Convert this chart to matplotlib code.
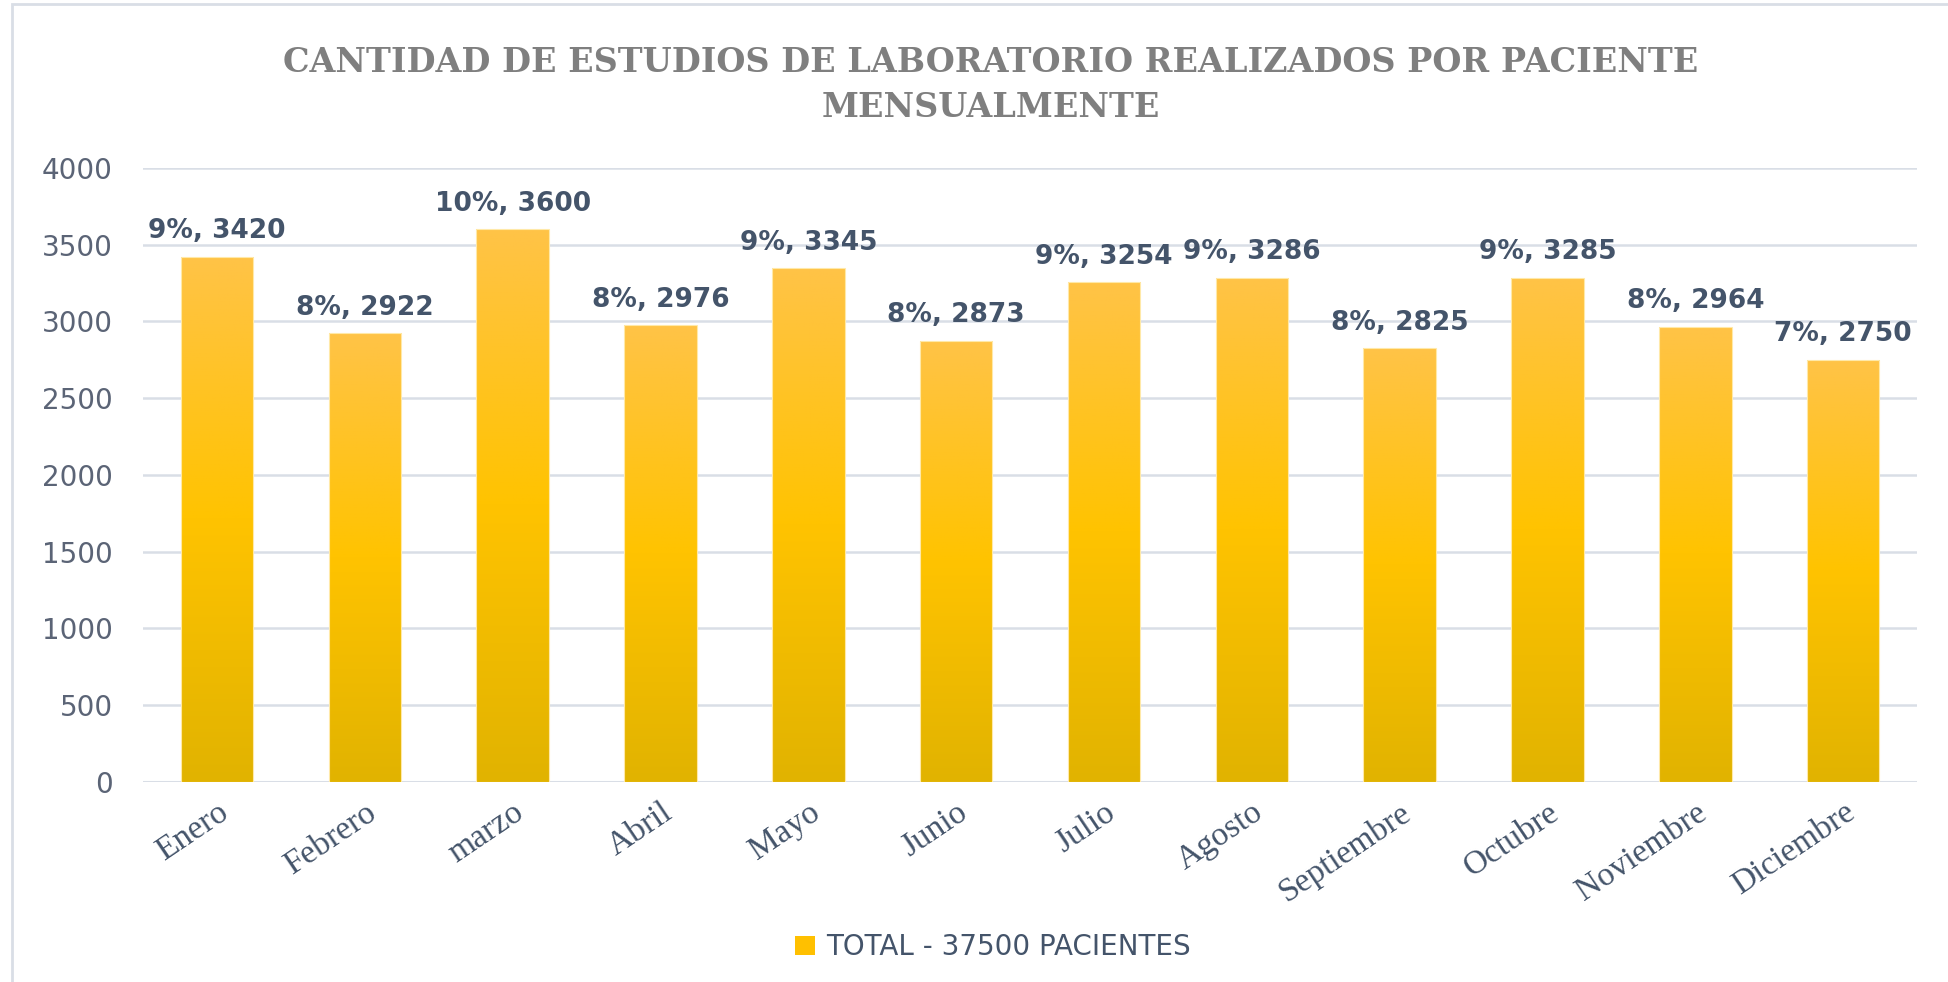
import matplotlib
matplotlib.use('Agg')
import matplotlib.pyplot as plt
import numpy as np
from matplotlib.colors import LinearSegmentedColormap
from matplotlib.patches import Patch, Rectangle

months = ['Enero', 'Febrero', 'marzo', 'Abril', 'Mayo', 'Junio', 'Julio',
          'Agosto', 'Septiembre', 'Octubre', 'Noviembre', 'Diciembre']
studies = [3420, 2922, 3600, 2976, 3345, 2873, 3254, 3286, 2825, 3285, 2964, 2750]
pct_labels = ['9%', '8%', '10%', '8%', '9%', '8%', '9%', '9%', '8%', '9%', '8%', '7%']
y_ticks = [0, 500, 1000, 1500, 2000, 2500, 3000, 3500, 4000]
series_name = 'TOTAL - 37500 PACIENTES'
title = 'CANTIDAD DE ESTUDIOS DE LABORATORIO REALIZADOS POR PACIENTE\nMENSUALMENTE'

text_col = '#44546A'
grid_col = '#D9DEE6'

fig = plt.figure(figsize=(19.49, 9.82), dpi=100)
ax = fig.add_axes([0.0734, 0.2037, 0.9102, 0.6253])

# gradient from bottom (darker gold) to top (light orange-yellow)
cmap = LinearSegmentedColormap.from_list('gold', [(0.0, '#E1B300'), (0.5, '#FFC300'), (1.0, '#FFC347')])
grad = np.linspace(0, 1, 256).reshape(-1, 1)

x = np.arange(len(months))
bars = ax.bar(x, studies, width=0.49, facecolor='none', edgecolor='#FFE9A8', linewidth=0.8, zorder=3)
for b in bars:
    x0, y0 = b.get_x(), b.get_y()
    im = ax.imshow(grad, extent=[x0, x0 + b.get_width(), y0, y0 + b.get_height()],
                   origin='lower', aspect='auto', cmap=cmap, zorder=2)
    im.set_clip_path(b)

for i, v in enumerate(studies):
    ax.annotate(f'{pct_labels[i]}, {v}', xy=(x[i], v), xytext=(0, 9), textcoords='offset points',
                ha='center', va='bottom', fontsize=19, fontweight='bold', color=text_col)

ax.set_xlim(-0.5, len(months) - 0.5)
ax.set_ylim(0, 4000)
ax.set_yticks(y_ticks)
ax.set_xticks(x)
ax.set_xticklabels(months, rotation=34, ha='right', rotation_mode='anchor',
                   fontsize=24, family='Liberation Serif', color=text_col)
ax.tick_params(axis='x', length=0, pad=11)
ax.tick_params(axis='y', length=0, pad=22, labelsize=20, labelcolor='#5B6476')
ax.yaxis.grid(True, color=grid_col, linewidth=1.8)
ax.set_axisbelow(True)
for s in ax.spines.values():
    s.set_visible(False)
ax.axhline(0, color=grid_col, linewidth=2.2, zorder=1)

fig.text(0.5085, 0.9135, title, ha='center', va='center', fontsize=24, fontweight='bold',
         family='DejaVu Serif', color='#7F7F7F', linespacing=1.45)

leg = fig.legend(handles=[Patch(facecolor='#FFC000', edgecolor='none', label=series_name)],
                 loc='center', bbox_to_anchor=(0.5095, 0.0356), frameon=False, fontsize=20,
                 handlelength=0.7, handleheight=0.7, handletextpad=0.4)
for t in leg.get_texts():
    t.set_color(text_col)

# outer chart frame
fig.add_artist(Rectangle((12 / 1949, -0.1), 1.1, 1.1 - 4 / 982, transform=fig.transFigure,
                         fill=False, edgecolor=grid_col, linewidth=2))

fig.savefig('out.png', dpi=100)
